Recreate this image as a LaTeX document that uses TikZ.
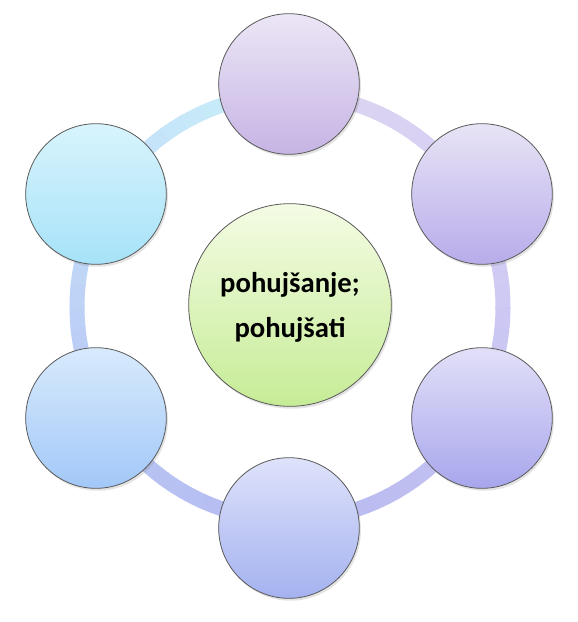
\documentclass[tikz,border=0pt]{standalone}
\usepackage{fontspec}
\setmainfont{Carlito}
\usetikzlibrary{shadows}

\definecolor{ringA}{HTML}{DCD4F0}
\definecolor{ringB}{HTML}{D6D0F4}
\definecolor{ringC}{HTML}{C4C2F2}
\definecolor{ringD}{HTML}{B6BAF0}
\definecolor{ringE}{HTML}{B8C6F4}
\definecolor{ringF}{HTML}{C4DEF8}
\definecolor{ringG}{HTML}{C8F0FA}
\definecolor{topA}{HTML}{ECE6F6}   \definecolor{botA}{HTML}{C6B4E4}
\definecolor{topB}{HTML}{E8E4F6}   \definecolor{botB}{HTML}{B8ACEA}
\definecolor{topC}{HTML}{E2E0F8}   \definecolor{botC}{HTML}{A8A6EC}
\definecolor{topD}{HTML}{DEE2FA}   \definecolor{botD}{HTML}{A4B2F0}
\definecolor{topE}{HTML}{D8EAFC}   \definecolor{botE}{HTML}{A2C8F8}
\definecolor{topF}{HTML}{D8F4FC}   \definecolor{botF}{HTML}{A6E2F8}
\definecolor{topCore}{HTML}{F4FCE4} \definecolor{botCore}{HTML}{C6EC96}

\tikzset{every picture/.style={line width=0.75pt}}
\tikzset{
  ringline/.style={line width=11.25pt, line cap=butt},
  bubble/.style={circle, draw=black!65, line width=0.6pt, minimum size=105.5pt, inner sep=0pt,
    drop shadow={shadow xshift=1.2pt, shadow yshift=-1.8pt, opacity=0.22}},
  corebubble/.style={bubble, minimum size=152pt, align=center, text height=52.8pt,
    font=\fontsize{21.5}{33.75}\selectfont\bfseries},
}

\begin{document}
\begin{tikzpicture}[x=0.75pt,y=0.75pt,yscale=-1,xscale=1]
\useasboundingbox (0,0) rectangle (578,622);

% ring behind the circles
\coordinate (hub) at (290,307);
\foreach \a/\ca/\cb in {-90/ringA/ringB, -30/ringB/ringC, 30/ringC/ringD, 90/ringD/ringE, 150/ringE/ringF, 210/ringF/ringG}{
  \foreach \k in {0,...,9}{
    \pgfmathtruncatemacro\p{95-\k*10}
    \draw[ringline, \ca!\p!\cb] ([shift={(\a+\k*6:213)}]hub) arc[start angle=\a+\k*6, end angle=\a+\k*6+6.5, radius=213];
  }
}

% outer circles
\node[bubble, top color=topA, bottom color=botA] (c1) at (289,84) {};
\node[bubble, top color=topB, bottom color=botB] (c2) at (482,194) {};
\node[bubble, top color=topC, bottom color=botC] (c3) at (482,418) {};
\node[bubble, top color=topD, bottom color=botD] (c4) at (289,528) {};
\node[bubble, top color=topE, bottom color=botE] (c5) at (96,418) {};
\node[bubble, top color=topF, bottom color=botF] (c6) at (96,194) {};

% centre
\node[corebubble, top color=topCore, bottom color=botCore] (core) at (290,305) {pohujšanje;\\pohujšati};

\end{tikzpicture}
\end{document}
